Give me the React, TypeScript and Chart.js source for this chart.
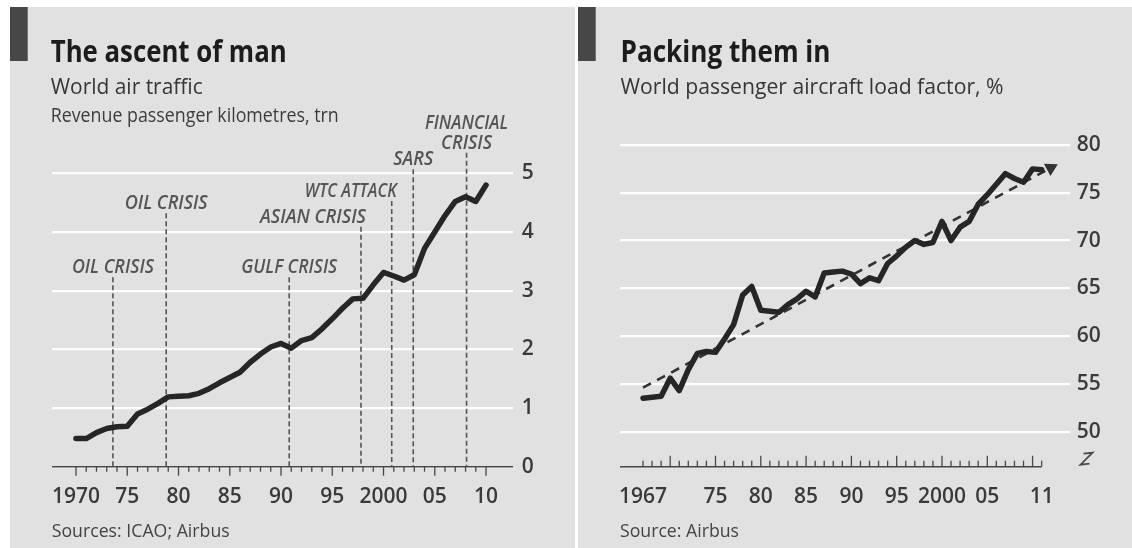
import React, { useEffect, useRef } from "react";
import { Chart, registerables } from "chart.js";

Chart.register(...registerables);

// ---------- World air traffic, revenue passenger kilometres (trn) ----------
const trafficYears = [
  1970, 1971, 1972, 1973, 1974, 1975, 1976, 1977, 1978, 1979,
  1980, 1981, 1982, 1983, 1984, 1985, 1986, 1987, 1988, 1989,
  1990, 1991, 1992, 1993, 1994, 1995, 1996, 1997, 1998, 1999,
  2000, 2001, 2002, 2003, 2004, 2005, 2006, 2007, 2008, 2009, 2010,
];
const trafficValues = [
  0.48, 0.48, 0.58, 0.65, 0.68, 0.69, 0.9, 0.98, 1.08, 1.19,
  1.2, 1.21, 1.25, 1.33, 1.43, 1.52, 1.61, 1.78, 1.92, 2.04,
  2.1, 2.02, 2.15, 2.2, 2.35, 2.52, 2.7, 2.86, 2.87, 3.1,
  3.31, 3.25, 3.18, 3.27, 3.72, 4.0, 4.28, 4.52, 4.6, 4.52, 4.8,
];
const trafficTickYears = [1970, 1975, 1980, 1985, 1990, 1995, 2000, 2005, 2010];
const trafficTickLabels = ["1970", "75", "80", "85", "90", "95", "2000", "05", "10"];
const trafficGridValues = [0, 1, 2, 3, 4, 5];

// Events marked with dashed rules
const crisisNames = [
  "OIL CRISIS",
  "OIL CRISIS",
  "GULF CRISIS",
  "ASIAN CRISIS",
  "WTC ATTACK",
  "SARS",
  "FINANCIAL\nCRISIS",
];
const crisisYears = [1973.6, 1978.8, 1990.8, 1997.8, 2000.8, 2002.9, 2008.1];

// ---------- World passenger aircraft load factor (%) ----------
const loadYears = [
  1967, 1968, 1969, 1970, 1971, 1972, 1973, 1974, 1975, 1976,
  1977, 1978, 1979, 1980, 1981, 1982, 1983, 1984, 1985, 1986,
  1987, 1988, 1989, 1990, 1991, 1992, 1993, 1994, 1995, 1996,
  1997, 1998, 1999, 2000, 2001, 2002, 2003, 2004, 2005, 2006,
  2007, 2008, 2009, 2010, 2011,
];
const loadValues = [
  53.5, 53.6, 53.7, 55.6, 54.3, 56.5, 58.2, 58.4, 58.3, 59.7,
  61.2, 64.3, 65.2, 62.7, 62.6, 62.5, 63.3, 63.9, 64.7, 64.1,
  66.6, 66.7, 66.8, 66.5, 65.5, 66.1, 65.8, 67.6, 68.4, 69.3,
  70.0, 69.6, 69.8, 72.0, 70.0, 71.4, 72.0, 73.8, 74.8, 75.9,
  77.0, 76.5, 76.1, 77.5, 77.4,
];
const trendYears = [1967, 2012];
const trendValues = [54.6, 77.6];
const loadTickYears = [1967, 1975, 1980, 1985, 1990, 1995, 2000, 2005, 2011];
const loadTickLabels = ["1967", "75", "80", "85", "90", "95", "2000", "05", "11"];
const loadGridValues = [50, 55, 60, 65, 70, 75, 80];

// ---------- Styling / layout ----------
const FONT = "'Open Sans', 'Liberation Sans', sans-serif";
const INK = "#262626";
const PANEL_BG = "#e1e1e1";
const BAR = "#474747";
const PANEL_TOP = 7;
const PANEL_H = 541;

// vertical extent of each event rule (in trn) and how its label sits on it
const crisisLayout = [
  { top: 3.23, align: "center", widths: [82] },
  { top: 4.32, align: "center", widths: [83] },
  { top: 3.23, align: "center", widths: [96] },
  { top: 4.09, align: "right", widths: [106] },
  { top: 4.53, align: "right", widths: [92] },
  { top: 5.07, align: "center", widths: [40] },
  { top: 5.35, align: "center", widths: [83, 51] },
];

type TextSpec = {
  text: string;
  x: number;
  y: number;
  width: number;
  size: number;
  color: string;
  weight?: string;
  style?: string;
};

// Draw a single line of text, squeezed horizontally to a given width
function drawFitted(ctx: CanvasRenderingContext2D, t: TextSpec) {
  ctx.save();
  ctx.font = `${t.style ?? "normal"} ${t.weight ?? "normal"} ${t.size}px ${FONT}`;
  ctx.fillStyle = t.color;
  ctx.textAlign = "left";
  ctx.textBaseline = "alphabetic";
  const w = ctx.measureText(t.text).width || 1;
  ctx.translate(t.x, t.y);
  ctx.scale(t.width / w, 1);
  ctx.fillText(t.text, 0, 0);
  ctx.restore();
}

function panelChrome(texts: TextSpec[]) {
  return {
    id: "panelChrome",
    beforeDraw(chart: any) {
      const ctx = chart.ctx as CanvasRenderingContext2D;
      ctx.save();
      ctx.fillStyle = PANEL_BG;
      ctx.fillRect(0, 0, chart.width, chart.height);
      ctx.fillStyle = BAR;
      ctx.fillRect(0, 0, 17.7, 54);
      ctx.restore();
    },
    afterDraw(chart: any) {
      const ctx = chart.ctx as CanvasRenderingContext2D;
      texts.forEach((t) => drawFitted(ctx, t));
    },
  };
}

const tickFont = { family: FONT, size: 21, weight: "600" };
const tickColor = "#3a3a3a";

function buildTraffic(canvas: HTMLCanvasElement) {
  const texts: TextSpec[] = [
    { text: "The ascent of man", x: 40.7, y: 54.7, width: 236, size: 31, weight: "bold", color: "#1c1c1c" },
    { text: "World air traffic", x: 40.7, y: 87.3, width: 152, size: 22, weight: "500", color: "#363636" },
    { text: "Revenue passenger kilometres, trn", x: 40.7, y: 114.7, width: 288, size: 20, weight: "500", color: "#3c3c3c" },
    { text: "Sources: ICAO; Airbus", x: 41.7, y: 530.3, width: 178, size: 17.5, weight: "500", color: "#444444" },
  ];

  const events = {
    id: "trafficEvents",
    beforeDatasetsDraw(chart: any) {
      const ctx = chart.ctx as CanvasRenderingContext2D;
      const xs = chart.scales.x;
      const ys = chart.scales.y;
      const area = chart.chartArea;
      const y0 = ys.getPixelForValue(0);

      // dashed event rules
      ctx.save();
      ctx.strokeStyle = "#555555";
      ctx.lineWidth = 1.6;
      ctx.setLineDash([5, 3]);
      crisisYears.forEach((yr, i) => {
        const x = xs.getPixelForValue(yr);
        const top = ys.getPixelForValue(crisisLayout[i].top);
        ctx.beginPath();
        ctx.moveTo(x, top);
        ctx.lineTo(x, y0);
        ctx.stroke();
      });
      ctx.restore();

      // event labels
      crisisYears.forEach((yr, i) => {
        const x = xs.getPixelForValue(yr);
        const lay = crisisLayout[i];
        const lines = crisisNames[i].split("\n");
        const top = ys.getPixelForValue(lay.top);
        lines.forEach((line, j) => {
          const w = lay.widths[j];
          const left = lay.align === "center" ? x - w / 2 : x + 5 - w;
          drawFitted(ctx, {
            text: line,
            x: left,
            y: top - 4 - (lines.length - 1 - j) * 20,
            width: w,
            size: 19.5,
            style: "italic",
            weight: "600",
            color: "#555555",
          });
        });
      });

      // baseline and year ticks
      ctx.save();
      ctx.strokeStyle = "#474747";
      ctx.lineWidth = 1.5;
      ctx.beginPath();
      ctx.moveTo(area.left, y0);
      ctx.lineTo(area.right, y0);
      ctx.stroke();
      ctx.lineWidth = 1.3;
      const first = trafficYears[0];
      const last = trafficYears[trafficYears.length - 1];
      for (let yr = first; yr <= last; yr++) {
        const x = xs.getPixelForValue(yr);
        const len = yr % 5 === 0 ? 9 : 5;
        ctx.beginPath();
        ctx.moveTo(x, y0);
        ctx.lineTo(x, y0 + len);
        ctx.stroke();
      }
      ctx.restore();
    },
  };

  return new Chart(canvas, {
    type: "line",
    data: {
      datasets: [
        {
          data: trafficYears.map((yr, i) => ({ x: yr, y: trafficValues[i] })),
          borderColor: INK,
          borderWidth: 5.5,
          pointRadius: 0,
          tension: 0,
          borderJoinStyle: "round",
          borderCapStyle: "round",
        },
      ],
    },
    options: {
      animation: false,
      responsive: false,
      maintainAspectRatio: false,
      events: [],
      layout: { padding: { left: 42, top: 166.3, right: 0, bottom: 0 } },
      plugins: { legend: { display: false }, tooltip: { enabled: false } },
      scales: {
        x: {
          type: "linear",
          min: 1967.66,
          max: 2012.63,
          afterBuildTicks: (s: any) => {
            s.ticks = trafficTickYears.map((v) => ({ value: v }));
          },
          afterFit: (s: any) => {
            s.height = PANEL_H - 459.7;
          },
          grid: { display: false, drawTicks: false },
          border: { display: false },
          ticks: {
            autoSkip: false,
            maxRotation: 0,
            padding: 18,
            font: tickFont,
            color: tickColor,
            callback: (v: any) => trafficTickLabels[trafficTickYears.indexOf(Number(v))],
          },
        },
        y: {
          position: "right",
          min: 0,
          max: 5,
          afterBuildTicks: (s: any) => {
            s.ticks = trafficGridValues.map((v) => ({ value: v }));
          },
          afterFit: (s: any) => {
            s.width = 62;
          },
          grid: { color: "#ffffff", lineWidth: 2.2, drawTicks: false },
          border: { display: false },
          ticks: { padding: 8.7, font: tickFont, color: tickColor },
        },
      },
    },
    plugins: [panelChrome(texts), events],
  } as any);
}

function buildLoad(canvas: HTMLCanvasElement) {
  const texts: TextSpec[] = [
    { text: "Packing them in", x: 42.5, y: 54.7, width: 210, size: 31, weight: "bold", color: "#1c1c1c" },
    { text: "World passenger aircraft load factor, %", x: 42.5, y: 87.3, width: 383, size: 22, weight: "500", color: "#363636" },
    { text: "Source: Airbus", x: 42, y: 530.3, width: 119, size: 17.5, weight: "500", color: "#444444" },
  ];

  const axis = {
    id: "loadAxis",
    beforeDatasetsDraw(chart: any) {
      const ctx = chart.ctx as CanvasRenderingContext2D;
      const xs = chart.scales.x;
      const area = chart.chartArea;
      const y0 = area.bottom;
      const first = loadTickYears[0];
      const last = loadTickYears[loadTickYears.length - 1];
      ctx.save();
      ctx.strokeStyle = "#474747";
      ctx.lineWidth = 1.5;
      ctx.beginPath();
      ctx.moveTo(area.left, y0);
      ctx.lineTo(xs.getPixelForValue(last), y0);
      ctx.stroke();
      ctx.lineWidth = 1.3;
      for (let yr = first; yr <= last; yr++) {
        const x = xs.getPixelForValue(yr);
        const len = yr % 5 === 0 ? 11 : 6;
        ctx.beginPath();
        ctx.moveTo(x, y0);
        ctx.lineTo(x, y0 - len);
        ctx.stroke();
      }
      // broken-axis mark under the lowest label
      const bx = area.right + 16.5;
      const by = y0 - 8;
      ctx.lineWidth = 1.8;
      ctx.strokeStyle = "#4a4a4a";
      ctx.beginPath();
      ctx.moveTo(bx - 3, by - 5);
      ctx.lineTo(bx + 6, by - 6);
      ctx.lineTo(bx - 6, by + 6);
      ctx.lineTo(bx + 3, by + 5);
      ctx.stroke();
      ctx.restore();
    },
  };

  const last = trendYears.length - 1;

  return new Chart(canvas, {
    type: "line",
    data: {
      datasets: [
        {
          data: loadYears.map((yr, i) => ({ x: yr, y: loadValues[i] })),
          borderColor: INK,
          borderWidth: 5.5,
          pointRadius: 0,
          tension: 0,
          borderJoinStyle: "round",
          borderCapStyle: "round",
        },
        {
          data: trendYears.map((yr, i) => ({ x: yr, y: trendValues[i] })),
          borderColor: "#333333",
          borderWidth: 2.6,
          borderDash: [9, 7],
          tension: 0,
          pointStyle: "triangle",
          pointRadius: (c: any) => (c.dataIndex === last ? 8 : 0),
          pointBackgroundColor: "#333333",
          pointBorderWidth: 0,
          pointHitRadius: 0,
          pointRotation: (c: any) => {
            const xs = c.chart.scales.x;
            const ys = c.chart.scales.y;
            if (!xs || !ys) return 60;
            const dx = xs.getPixelForValue(trendYears[last]) - xs.getPixelForValue(trendYears[0]);
            const dy = ys.getPixelForValue(trendValues[last]) - ys.getPixelForValue(trendValues[0]);
            return (Math.atan2(dy, dx) * 180) / Math.PI + 90;
          },
        },
      ],
    },
    options: {
      animation: false,
      responsive: false,
      maintainAspectRatio: false,
      events: [],
      layout: { padding: { left: 42, top: 138, right: 0, bottom: 0 } },
      plugins: { legend: { display: false }, tooltip: { enabled: false } },
      scales: {
        x: {
          type: "linear",
          min: 1964.46,
          max: 2014.13,
          afterBuildTicks: (s: any) => {
            s.ticks = loadTickYears.map((v) => ({ value: v }));
          },
          afterFit: (s: any) => {
            s.height = PANEL_H - 459.7;
          },
          grid: { display: false, drawTicks: false },
          border: { display: false },
          ticks: {
            autoSkip: false,
            maxRotation: 0,
            padding: 18,
            font: tickFont,
            color: tickColor,
            callback: (v: any) => loadTickLabels[loadTickYears.indexOf(Number(v))],
          },
        },
        y: {
          position: "right",
          min: 46.335,
          max: 80,
          afterBuildTicks: (s: any) => {
            s.ticks = loadGridValues.map((v) => ({ value: v }));
          },
          afterFit: (s: any) => {
            s.width = 62;
          },
          grid: { color: "#ffffff", lineWidth: 2.2, drawTicks: false },
          border: { display: false },
          ticks: { padding: 6.7, font: tickFont, color: tickColor },
        },
      },
    },
    plugins: [panelChrome(texts), axis],
  } as any);
}

function Panel({
  left,
  width,
  build,
}: {
  left: number;
  width: number;
  build: (c: HTMLCanvasElement) => Chart;
}) {
  const ref = useRef<HTMLCanvasElement>(null);
  useEffect(() => {
    if (!ref.current) return;
    const chart = build(ref.current);
    return () => chart.destroy();
  }, [build]);
  return (
    <canvas
      ref={ref}
      width={width}
      height={PANEL_H}
      style={{ position: "absolute", left, top: PANEL_TOP, width, height: PANEL_H }}
    />
  );
}

export default function App() {
  useEffect(() => {
    document.body.style.margin = "0";
  }, []);
  return (
    <div style={{ position: "relative", width: 1132, height: 548, background: "#ffffff", overflow: "hidden" }}>
      <Panel left={10} width={565} build={buildTraffic} />
      <Panel left={578} width={554} build={buildLoad} />
    </div>
  );
}
